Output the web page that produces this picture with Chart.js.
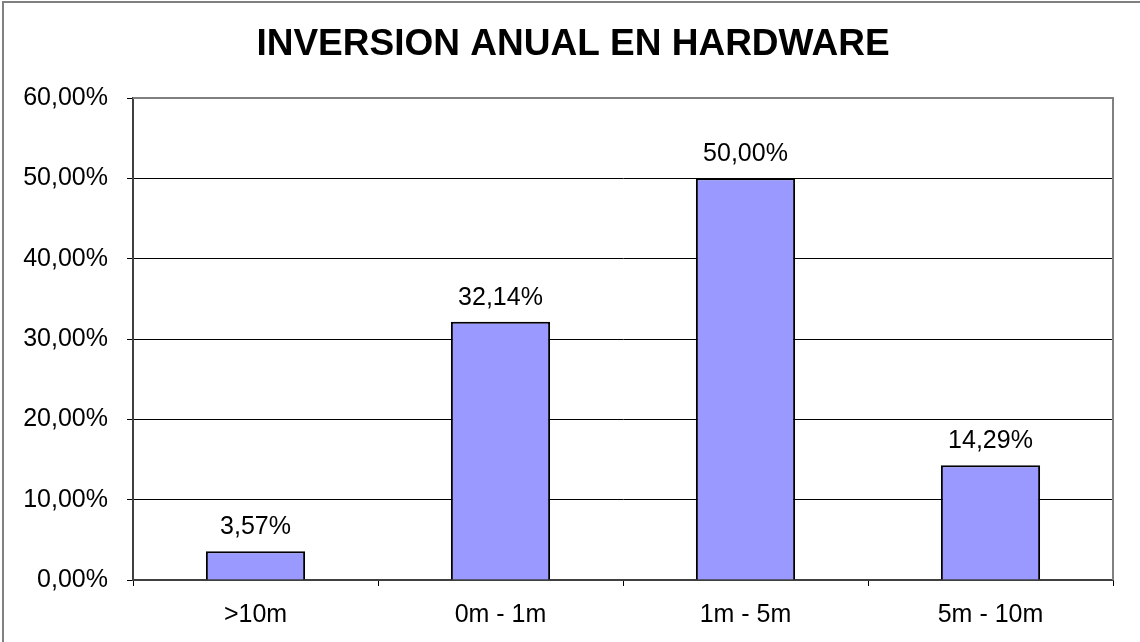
<!DOCTYPE html>
<html>
<head>
<meta charset="utf-8">
<script src="https://cdn.jsdelivr.net/npm/chart.js@4.4.1/dist/chart.umd.min.js"></script>
<style>
    html, body { margin: 0; padding: 0; background: #ffffff; }
    #wrap { width: 1140px; height: 642px; position: relative; }
</style>
</head>
<body>
<div id="wrap"><canvas id="grafico" width="1140" height="642"></canvas></div>
<script>
// datos de la encuesta
const titulo = "INVERSION ANUAL EN HARDWARE";
const categorias = [">10m", "0m - 1m", "1m - 5m", "5m - 10m"];
const valores = [3.57, 32.14, 50.0, 14.29];
const ticksEje = [0, 10, 20, 30, 40, 50, 60];

const fuente = "'Liberation Sans', Arial, sans-serif";

// formato con coma decimal, ej: 32,14%
function porcentaje(v) {
    return v.toFixed(2).replace(".", ",") + "%";
}

// marco exterior, borde gris del area de trazado, titulo y etiquetas sobre las barras
const extras = {
    id: "extras",
    afterDraw(chart) {
        const ctx = chart.ctx;
        const a = chart.chartArea;
        ctx.save();

        ctx.strokeStyle = "#808080";
        ctx.lineWidth = 2;
        ctx.beginPath();
        ctx.moveTo(3, 642);
        ctx.lineTo(3, 2);
        ctx.lineTo(1140, 2);
        ctx.stroke();

        ctx.beginPath();
        ctx.moveTo(a.left, a.top);
        ctx.lineTo(a.right, a.top);
        ctx.lineTo(a.right, a.bottom);
        ctx.stroke();

        ctx.fillStyle = "#000000";
        ctx.textAlign = "center";
        ctx.textBaseline = "middle";
        ctx.font = "bold 37px " + fuente;
        ctx.fillText(titulo, 573, 45);

        ctx.font = "25px " + fuente;
        ctx.textBaseline = "alphabetic";
        const meta = chart.getDatasetMeta(0);
        meta.data.forEach((bar, i) => {
            ctx.fillText(porcentaje(valores[i]), bar.x, bar.y - 17);
        });
        ctx.restore();
    }
};

new Chart(document.getElementById("grafico"), {
    type: "bar",
    data: {
        labels: categorias,
        datasets: [
            {
                data: valores,
                backgroundColor: "#9999FF",
                borderColor: "#000000",
                borderWidth: 2,
                barPercentage: 0.405,
                categoryPercentage: 1.0,
            },
        ],
    },
    options: {
        responsive: false,
        animation: false,
        layout: { padding: { top: 98, right: 27, left: 0, bottom: 0 } },
        plugins: {
            legend: { display: false },
            tooltip: { enabled: false },
        },
        scales: {
            x: {
                grid: {
                    offset: true,
                    drawOnChartArea: false,
                    tickLength: 6,
                    color: "#000000",
                    lineWidth: 1,
                },
                border: { color: "#404040", width: 2 },
                ticks: {
                    color: "#000000",
                    font: { family: fuente, size: 25 },
                    padding: 14,
                },
                afterFit(scale) {
                    scale.height = 62;
                },
            },
            y: {
                min: 0,
                max: 60,
                afterBuildTicks(scale) {
                    scale.ticks = ticksEje.map((v) => ({ value: v }));
                },
                grid: {
                    color: "#000000",
                    lineWidth: 1,
                    tickLength: 6,
                },
                border: { color: "#404040", width: 2 },
                ticks: {
                    color: "#000000",
                    font: { family: fuente, size: 25 },
                    padding: 19,
                    callback: (v) => porcentaje(v),
                },
                afterFit(scale) {
                    scale.width = 133;
                },
            },
        },
    },
    plugins: [extras],
});
</script>
</body>
</html>
